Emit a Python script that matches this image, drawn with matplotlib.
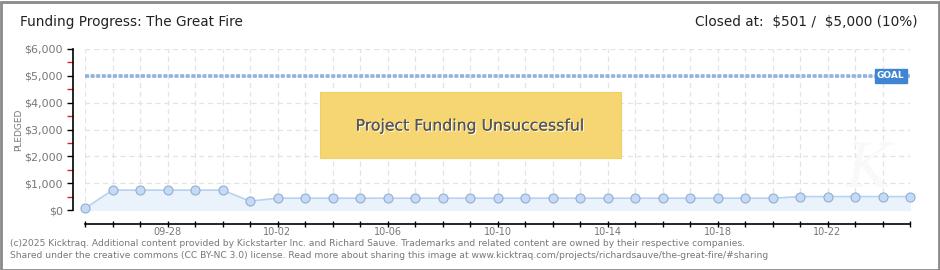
import matplotlib
matplotlib.use("Agg")
import matplotlib.pyplot as plt
from matplotlib.patches import Rectangle
import matplotlib.patheffects as pe
import numpy as np

# ---- data ----
dates = ["09-25", "09-26", "09-27", "09-28", "09-29", "09-30", "10-01", "10-02",
         "10-03", "10-04", "10-05", "10-06", "10-07", "10-08", "10-09", "10-10",
         "10-11", "10-12", "10-13", "10-14", "10-15", "10-16", "10-17", "10-18",
         "10-19", "10-20", "10-21", "10-22", "10-23", "10-24", "10-25"]
pledged = [60, 740, 740, 740, 740, 740, 330, 440, 440, 440, 440, 440, 440, 440, 440, 440,
           440, 440, 440, 440, 440, 440, 440, 440, 440, 440, 501, 501, 501, 501, 501]
goal = 5000
yticks = [0, 1000, 2000, 3000, 4000, 5000, 6000]
ytick_labels = ["$0", "$1,000", "$2,000", "$3,000", "$4,000", "$5,000", "$6,000"]
xlabel_every = 4
xlabel_start = 3

plt.rcParams['font.family'] = ['DejaVu Sans']
plt.rcParams['text.parse_math'] = False

W, H = 940, 270
fig = plt.figure(figsize=(W / 100, H / 100), dpi=100)
fig.patch.set_facecolor('white')

# outer border
fig.patches.append(Rectangle((0.5 / W, 0.5 / H), 1 - 2 / W, 1 - 2 / H, transform=fig.transFigure,
                             fill=False, edgecolor='#8a8a8a', lw=2))

ax = fig.add_axes([85 / W, (H - 210) / H, 825 / W, 161 / H])
x = np.arange(len(dates))
ax.set_xlim(0, len(dates) - 1)
ax.set_ylim(0, 6000)

# grid
for xi in x:
    ax.axvline(xi, color='#e3e3e3', lw=0.9, ls=(0, (4, 3)), zorder=0)
for yv in yticks:
    ax.axhline(yv, color='#e3e3e3', lw=0.9, ls=(0, (4, 3)), zorder=0)

# watermark
ax.text(28.5, 1500, 'K', fontsize=44, color='#f9f9f9', style='italic', ha='center', va='center',
        zorder=0, family=['DejaVu Serif'])

# series
ax.fill_between(x, pledged, 0, color='#eaf2fc', zorder=1)
ax.plot(x, pledged, color='#b7d3f0', lw=1.2, zorder=2)
ax.plot(x, pledged, 'o', ms=6.5, mfc='#c3dbf6', mec='#95add0', mew=0.8, zorder=3, clip_on=False)

# goal line
ax.plot([0, len(dates) - 1], [goal, goal], color='#8fb3de', lw=2.6, ls=(0, (1.1, 0.45)), zorder=2)

# GOAL tag
ax.text(29.3, goal, 'GOAL', transform=ax.transData, ha='center', va='center', fontsize=6.5,
        color='white', fontweight='bold', zorder=6,
        bbox=dict(boxstyle='square,pad=0.25', fc='#3f86d2', ec='#3f86d2'))

# unsuccessful banner
fig.patches.append(Rectangle((320 / W, (H - 158) / H), 301 / W, 66 / H, transform=fig.transFigure,
                             fc='#f6d673', ec='#f0d060', lw=0.8, zorder=5))
fig.text(470 / W, (H - 126) / H, 'Project Funding Unsuccessful', ha='center', va='center',
         fontsize=11.3, color='#555555', zorder=6,
         path_effects=[pe.withSimplePatchShadow(offset=(0.8, -0.8), shadow_rgbFace='white', alpha=1.0),
                       pe.Normal()])

# axes styling
for s in ['top', 'right']:
    ax.spines[s].set_visible(False)
ax.spines['left'].set_position(('outward', 9))
ax.spines['bottom'].set_position(('outward', 10))
ax.spines['left'].set_color('black')
ax.spines['bottom'].set_color('black')
ax.spines['left'].set_linewidth(1.2)
ax.spines['bottom'].set_linewidth(1.2)

ax.set_yticks(yticks)
ax.set_yticklabels(ytick_labels)
ax.set_yticks([500, 1500, 2500, 3500, 4500, 5500], minor=True)
ax.tick_params(axis='y', which='major', length=4, width=1, color='black', labelsize=8,
               labelcolor='#777777', pad=3)
ax.tick_params(axis='y', which='minor', length=4, width=1, color='#e02020')

ax.set_xticks(x)
ax.set_xticklabels([d if (i - xlabel_start) % xlabel_every == 0 else '' for i, d in enumerate(dates)])
ax.tick_params(axis='x', which='major', direction='inout', length=5, width=1, color='black',
               labelsize=7, labelcolor='#777777', pad=0)

ax.set_ylabel('PLEDGED', fontsize=6.5, color='#777777')
ax.yaxis.set_label_coords(-0.075, 0.5)

# titles
fig.text(20 / W, (H - 22) / H, 'Funding Progress: The Great Fire', fontsize=9.8, color='#222222',
         ha='left', va='center')
fig.text(918 / W, (H - 22) / H, 'Closed at:  $501 /  $5,000 (10%)', fontsize=9.8, color='#222222',
         ha='right', va='center')

# footer
fig.text(10 / W, (H - 243) / H,
         '(c)2025 Kicktraq. Additional content provided by Kickstarter Inc. and Richard Sauve. Trademarks and related content are owned by their respective companies.',
         fontsize=6.6, color='#777777', ha='left', va='center')
fig.text(10 / W, (H - 256) / H,
         'Shared under the creative commons (CC BY-NC 3.0) license. Read more about sharing this image at www.kicktraq.com/projects/richardsauve/the-great-fire/#sharing',
         fontsize=6.6, color='#777777', ha='left', va='center')

fig.savefig('out.png', dpi=100, facecolor='white')
